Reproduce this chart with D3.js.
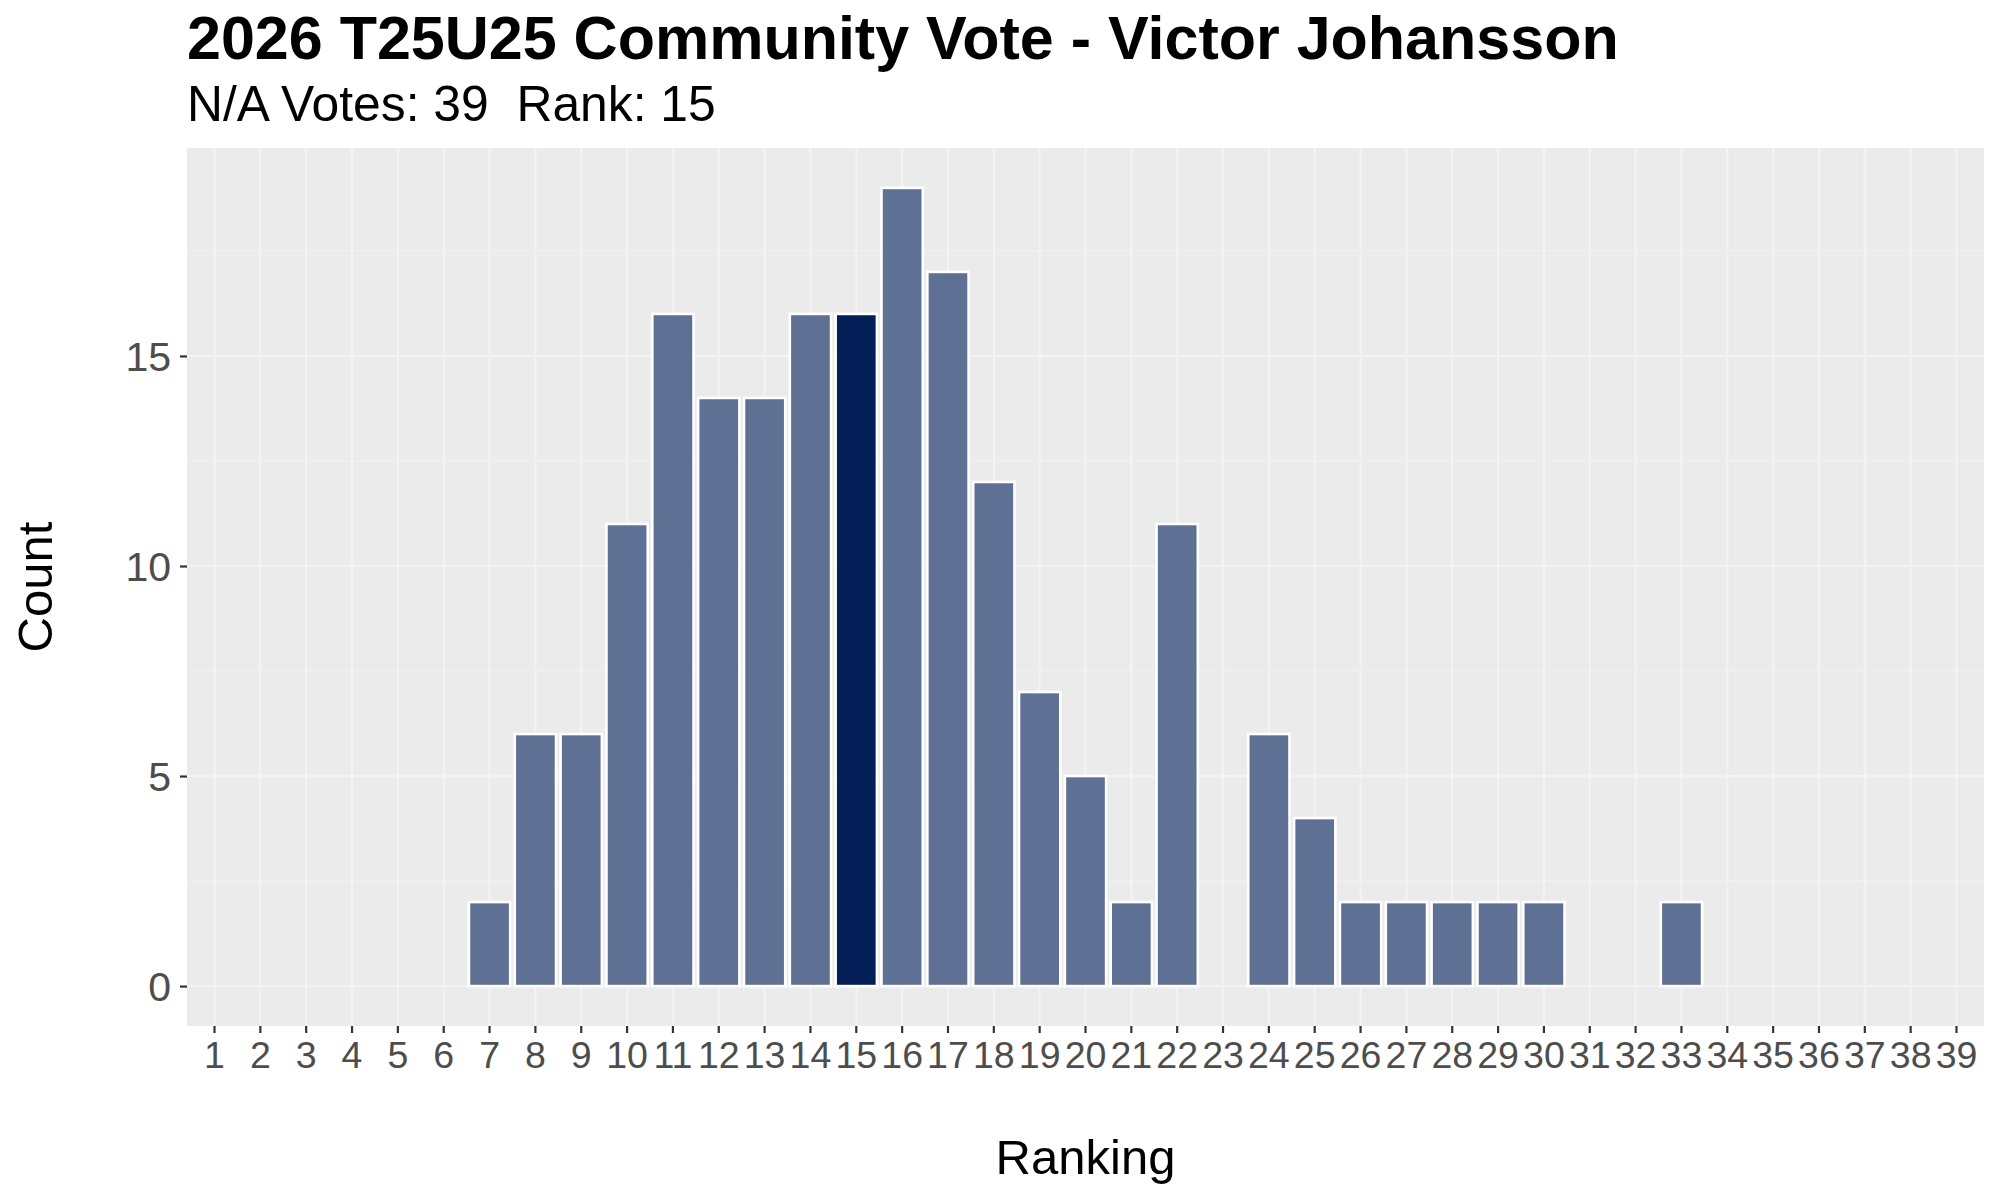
<!DOCTYPE html>
<html>
<head>
<meta charset="utf-8">
<script src="https://cdn.jsdelivr.net/npm/d3@7"></script>
<style>
  html, body { margin: 0; padding: 0; background: #fff; }
  svg text { font-family: "Liberation Sans", Arial, sans-serif; }
</style>
</head>
<body>
<div id="chart"></div>
<script>
// Vote counts per ranking slot (1..39)
const rankings = d3.range(1, 40);
const counts = [0, 0, 0, 0, 0, 0, 2, 6, 6, 11, 16, 14, 14, 16, 16, 19, 17, 12, 7, 5,
                2, 11, 0, 6, 4, 2, 2, 2, 2, 2, 0, 0, 2, 0, 0, 0, 0, 0, 0];
const highlightRank = 15;
const yTicks = [0, 5, 10, 15];
const yMinor = [2.5, 7.5, 12.5, 17.5];

const titleText = '2026 T25U25 Community Vote - Victor Johansson';
const subtitleText = 'N/A Votes: 39  Rank: 15';

const width = 2000, height = 1200;
const panel = { left: 187, right: 1984, top: 148, bottom: 1026 };

const data = rankings.map((r, i) => ({ rank: r, count: counts[i] }));

const svg = d3.select('#chart').append('svg')
  .attr('width', width)
  .attr('height', height);

// discrete x like ggplot (0.6 unit expansion each side, bar width 0.9)
const x = d3.scaleBand()
  .domain(rankings)
  .range([panel.left, panel.right])
  .paddingInner(0.1)
  .paddingOuter(0.15);

const yMax = d3.max(counts);
const y = d3.scaleLinear()
  .domain([-0.05 * yMax, yMax * 1.05])
  .range([panel.bottom, panel.top]);

// panel background
svg.append('rect')
  .attr('x', panel.left)
  .attr('y', panel.top)
  .attr('width', panel.right - panel.left)
  .attr('height', panel.bottom - panel.top)
  .attr('fill', '#EBEBEB');

// grid
const grid = svg.append('g');
grid.selectAll('line.minor')
  .data(yMinor)
  .enter().append('line')
  .attr('x1', panel.left).attr('x2', panel.right)
  .attr('y1', d => y(d)).attr('y2', d => y(d))
  .attr('stroke', '#F2F2F2')
  .attr('stroke-width', 1.2);
grid.selectAll('line.hmajor')
  .data(yTicks)
  .enter().append('line')
  .attr('x1', panel.left).attr('x2', panel.right)
  .attr('y1', d => y(d)).attr('y2', d => y(d))
  .attr('stroke', '#F3F3F3')
  .attr('stroke-width', 2.2);
grid.selectAll('line.vmajor')
  .data(rankings)
  .enter().append('line')
  .attr('x1', d => x(d) + x.bandwidth() / 2)
  .attr('x2', d => x(d) + x.bandwidth() / 2)
  .attr('y1', panel.top).attr('y2', panel.bottom)
  .attr('stroke', '#F3F3F3')
  .attr('stroke-width', 2.2);

// bars
svg.append('g')
  .selectAll('rect')
  .data(data.filter(d => d.count > 0))
  .enter().append('rect')
  .attr('x', d => x(d.rank))
  .attr('y', d => y(d.count))
  .attr('width', x.bandwidth())
  .attr('height', d => y(0) - y(d.count))
  .attr('fill', d => d.rank === highlightRank ? '#041F57' : '#5E7093')
  .attr('stroke', '#FFFFFF')
  .attr('stroke-width', 2.6);

// axes
const xAxis = d3.axisBottom(x).tickSize(7).tickPadding(8);
const gx = svg.append('g')
  .attr('transform', `translate(0,${panel.bottom})`)
  .call(xAxis);
gx.select('.domain').remove();
gx.selectAll('line').attr('stroke', '#333333').attr('stroke-width', 2.2);
gx.selectAll('text')
  .attr('fill', '#4D4D4D')
  .attr('font-size', 37.5)
  .attr('dy', '0.72em');

const yAxis = d3.axisLeft(y).tickValues(yTicks).tickSize(7).tickPadding(9);
const gy = svg.append('g')
  .attr('transform', `translate(${panel.left},0)`)
  .call(yAxis);
gy.select('.domain').remove();
gy.selectAll('line').attr('stroke', '#333333').attr('stroke-width', 2.2);
gy.selectAll('text')
  .attr('fill', '#4D4D4D')
  .attr('font-size', 41)
  .attr('dy', '0.36em');

// titles
svg.append('text')
  .attr('x', panel.left)
  .attr('y', 59)
  .attr('font-size', 61)
  .attr('font-weight', 'bold')
  .attr('fill', '#000')
  .text(titleText);

svg.append('text')
  .attr('x', panel.left)
  .attr('y', 121)
  .attr('font-size', 49.8)
  .attr('fill', '#000')
  .style('white-space', 'pre')
  .text(subtitleText);

svg.append('text')
  .attr('x', (panel.left + panel.right) / 2)
  .attr('y', 1174)
  .attr('text-anchor', 'middle')
  .attr('font-size', 49)
  .attr('fill', '#000')
  .text('Ranking');

svg.append('text')
  .attr('transform', `translate(52,${(panel.top + panel.bottom) / 2}) rotate(-90)`)
  .attr('text-anchor', 'middle')
  .attr('font-size', 49)
  .attr('fill', '#000')
  .text('Count');
</script>
</body>
</html>
